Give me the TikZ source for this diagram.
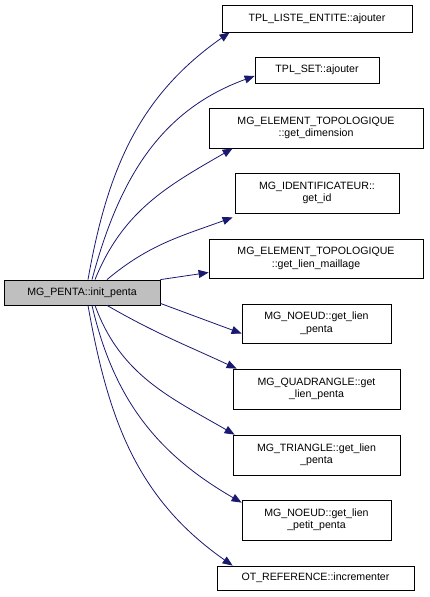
\documentclass[tikz,border=0pt]{standalone}
\usepackage{fontspec}
\setmainfont{Liberation Sans}
\usepackage{tikz}
\usetikzlibrary{arrows.meta}

\definecolor{edgeblue}{HTML}{191970}
\definecolor{maingray}{HTML}{BFBFBF}

\begin{document}
\begin{tikzpicture}[x=1pt, y=-1pt,
    every node/.style={font=\fontsize{10.6}{12.5}\selectfont},
    fn/.style={draw, rectangle, fill=white, align=center, inner sep=0pt, line width=0.8pt},
    caller/.style={fn, fill=maingray},
    call/.style={-{Triangle[length=10pt, width=8pt]}, edgeblue, line width=0.8pt}]
    \useasboundingbox (0,0) rectangle (429,597);

    % Caller
    \node[caller, minimum width=156pt, minimum height=25pt] (init) at (82,292.5) {MG\_PENTA::init\_penta};

    % Callees
    \node[fn, minimum width=190pt, minimum height=27pt] (liste) at (317,18.5) {TPL\_LISTE\_ENTITE::ajouter};
    \node[fn, minimum width=124pt, minimum height=26pt] (set) at (317,70) {TPL\_SET::ajouter};
    \node[fn, minimum width=214pt, minimum height=40pt] (dim) at (316,128) {MG\_ELEMENT\_TOPOLOGIQUE\\::get\_dimension};
    \node[fn, minimum width=164pt, minimum height=40pt] (ident) at (317,193) {MG\_IDENTIFICATEUR::\\get\_id};
    \node[fn, minimum width=214pt, minimum height=39pt] (maill) at (316,258.5) {MG\_ELEMENT\_TOPOLOGIQUE\\::get\_lien\_maillage};
    \node[fn, minimum width=149pt, minimum height=39pt] (noeud) at (316.5,323.5) {MG\_NOEUD::get\_lien\\\_penta};
    \node[fn, minimum width=167pt, minimum height=40pt] (quad) at (316.5,389) {MG\_QUADRANGLE::get\\\_lien\_penta};
    \node[fn, minimum width=167pt, minimum height=40pt] (tri) at (316.5,455) {MG\_TRIANGLE::get\_lien\\\_penta};
    \node[fn, minimum width=149pt, minimum height=40pt] (petit) at (316.5,520) {MG\_NOEUD::get\_lien\\\_petit\_penta};
    \node[fn, minimum width=197pt, minimum height=24pt] (incr) at (315.5,578) {OT\_REFERENCE::incrementer};

    % Arrows
    \draw[call] ([xshift=6pt]init.north) to[out=80, in=-145] ([xshift=8pt]liste.south west);
    \draw[call] ([xshift=10pt]init.north) to[out=75, in=200] ([yshift=-6pt]set.west);
    \draw[call] ([xshift=13pt]init.north) to[out=68, in=-150] ([xshift=24pt]dim.south west);
    \draw[call] ([xshift=25pt]init.north) to[out=40, in=-160] ([xshift=-2pt,yshift=-4pt]ident.south west);
    \draw[call] (init.north east) -- ([yshift=-14pt]maill.west);
    \draw[call] ([yshift=2pt]init.south east) -- ([yshift=-10pt]noeud.west);
    \draw[call] ([xshift=25pt]init.south) to[out=-30, in=155] ([xshift=4pt]quad.north west);
    \draw[call] ([xshift=13pt]init.south) to[out=-70, in=150] ([xshift=2pt]tri.north west);
    \draw[call] ([xshift=10pt]init.south) to[out=-77, in=150] ([yshift=-3pt]petit.north west);
    \draw[call] ([xshift=6pt]init.south) to[out=-80, in=145] ([xshift=16pt]incr.north west);
\end{tikzpicture}
\end{document}
